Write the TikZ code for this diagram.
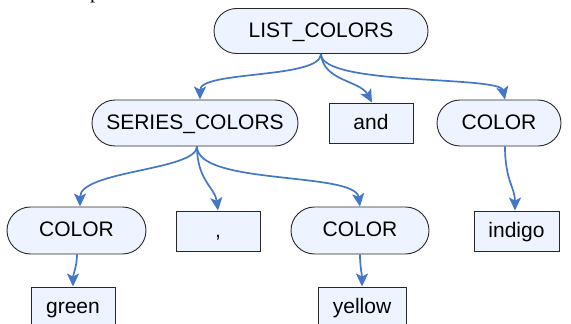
\documentclass[tikz,border=0pt]{standalone}
\usepackage{fontspec}
\setmainfont{Liberation Sans}
\newfontfamily\serifcap{Liberation Serif}
\usetikzlibrary{arrows.meta}
\definecolor{edgeblue}{RGB}{68,119,198}
\definecolor{boxfill}{RGB}{238,244,255}
\definecolor{boxline}{RGB}{40,40,40}
\tikzset{
  every node/.style={font=\fontsize{21}{25}\selectfont, inner sep=0pt},
  txt/.style={text height=16pt, text depth=4pt},
  stadium/.style={txt, draw=boxline, fill=boxfill, line width=0.9pt, rounded corners=#1},
  leafbox/.style={txt, draw=boxline, fill=boxfill, line width=0.9pt, minimum width=84pt, minimum height=40pt},
  edge/.style={draw=edgeblue, line width=1.7pt, -{Stealth[length=13pt,width=12pt,inset=3pt]}}
}
\begin{document}
\begin{tikzpicture}[x=1pt,y=-1pt]
\useasboundingbox (0,0) rectangle (571,324);
% cut-off caption fragment
\node[anchor=base west, font=\serifcap\fontsize{21}{25}\selectfont] (cap) at (90,-1.5) {p};
% nodes
\node[stadium=22.5pt, minimum width=214pt, minimum height=45pt] (L) at (321,31) {LIST\_COLORS};
\node[stadium=23pt, minimum width=206pt, minimum height=46pt] (S) at (195,123) {SERIES\_COLORS};
\node[leafbox] (and) at (371,123) {and};
\node[stadium=23pt, minimum width=124pt, minimum height=46pt] (CR) at (499,123) {COLOR};
\node[stadium=23.5pt, minimum width=139pt, minimum height=47pt] (CL) at (76.5,230.5) {COLOR};
\node[leafbox] (comma) at (218,231) {,};
\node[stadium=23.5pt, minimum width=138pt, minimum height=47pt] (CM) at (360,230.5) {COLOR};
\node[leafbox, minimum width=85pt] (indigo) at (516.5,231) {indigo};
\node[leafbox] (green) at (73,307) {green};
\node[leafbox, minimum width=88pt] (yellow) at (362,307) {yellow};
% edges
\draw[edge] (L.south) .. controls +(0,25) and +(0,-29) .. ([xshift=5pt]S.north);
\draw[edge] (L.south) .. controls +(2,27) and +(-12,-22) .. ([xshift=1pt]and.north);
\draw[edge] (L.south) .. controls +(0,32) and +(-5,-24) .. ([xshift=6pt]CR.north);
\draw[edge] ([xshift=2pt]S.south) .. controls +(0,24) and +(0,-36) .. ([xshift=3.5pt]CL.north);
\draw[edge] ([xshift=2pt]S.south) .. controls +(0,34) and +(-3,-23) .. (comma.north);
\draw[edge] ([xshift=2pt]S.south) .. controls +(0,39) and +(-5,-35) .. (CM.north);
\draw[edge] ([xshift=6pt]CR.south) .. controls +(0,34) and +(0,-23) .. ([xshift=-1.5pt]indigo.north);
\draw[edge] ([xshift=0.5pt]CL.south) .. controls +(0,12) and +(0,-12) .. (green.north);
\draw[edge] (CM.south) .. controls +(0,12) and +(0,-12) .. (yellow.north);
\end{tikzpicture}
\end{document}
